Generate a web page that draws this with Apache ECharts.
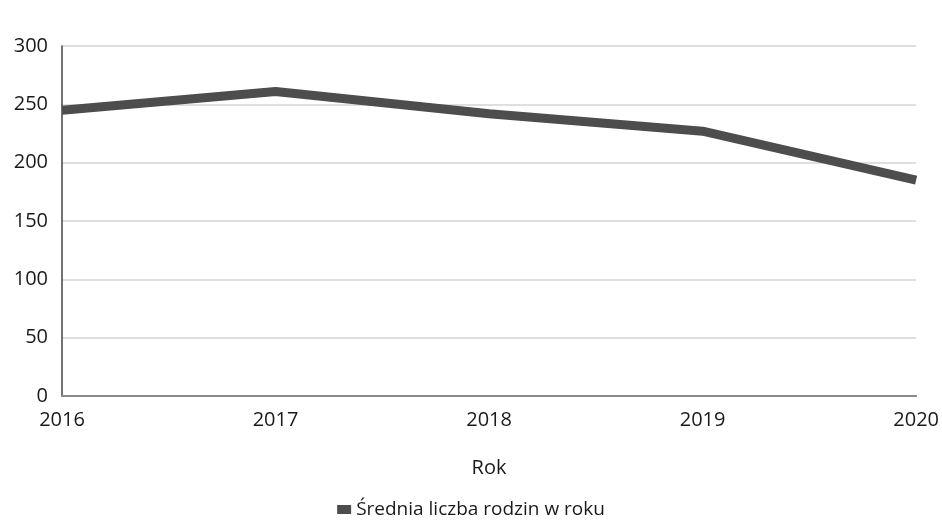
<!DOCTYPE html>
<html>
<head>
<meta charset="utf-8">
<script src="https://cdn.jsdelivr.net/npm/echarts@6/dist/echarts.min.js"></script>
<style>html,body{margin:0;padding:0;background:#fff;}#c{width:942px;height:522px;}</style>
</head>
<body>
<div id="c"></div>
<script>
var years = ['2016', '2017', '2018', '2019', '2020'];
var values = [245, 261, 242, 227, 185];
var yTicks = [0, 50, 100, 150, 200, 250, 300];
var seriesName = 'Średnia liczba rodzin w roku';
var xName = 'Rok';

var chart = echarts.init(document.getElementById('c'));
var font = '"Open Sans", "Noto Sans", sans-serif';
chart.setOption({
  animation: false,
  backgroundColor: '#ffffff',
  textStyle: { fontFamily: font },
  grid: { left: 62, right: 22, top: 46, bottom: 126 },
  legend: {
    bottom: -2, left: 'center',
    icon: 'rect', itemWidth: 14, itemHeight: 9, itemGap: 9,
    textStyle: { fontSize: 19, color: '#1a1a1a', fontFamily: font },
    data: [seriesName]
  },
  xAxis: {
    type: 'category', data: years, boundaryGap: false,
    name: xName, nameLocation: 'middle', nameGap: 62,
    nameTextStyle: { fontSize: 20, color: '#1a1a1a', fontFamily: font },
    axisLine: { lineStyle: { color: '#8a8a8a', width: 2 } },
    axisTick: { show: false },
    axisLabel: { fontSize: 20, color: '#1a1a1a', margin: 14, fontFamily: font },
    splitLine: { show: false }
  },
  yAxis: {
    type: 'value', min: yTicks[0], max: yTicks[yTicks.length - 1], interval: 50,
    axisLine: { show: true, lineStyle: { color: '#444', width: 1.5 } },
    axisTick: { show: false },
    axisLabel: { fontSize: 20, color: '#1a1a1a', margin: 14, fontFamily: font },
    splitLine: { lineStyle: { color: '#d4d4d4', width: 1.5 } }
  },
  series: [{
    name: seriesName, type: 'line', data: values,
    symbol: 'none', smooth: false,
    lineStyle: { color: '#4d4d4d', width: 9 },
    itemStyle: { color: '#4d4d4d' }
  }]
});
</script>
</body>
</html>
